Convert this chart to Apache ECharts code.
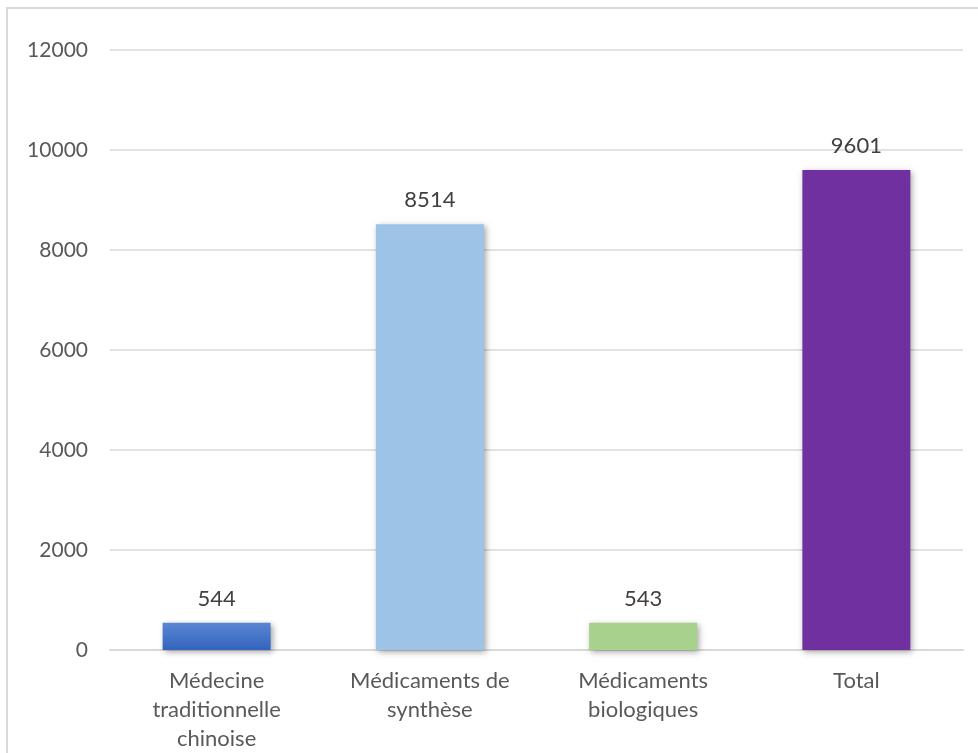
<!DOCTYPE html>
<html>
<head>
<meta charset="utf-8">
<style>html,body{margin:0;padding:0;background:#fff;}#c{width:978px;height:753px;}</style>
<script src="https://cdn.jsdelivr.net/npm/echarts@6/dist/echarts.min.js"></script>
</head>
<body>
<div id="c"></div>
<script>
const categories = ["Médecine\ntraditionnelle\nchinoise", "Médicaments de\nsynthèse", "Médicaments\nbiologiques", "Total"];
const values = [544, 8514, 543, 9601];
const barColors = [
  {type:'linear',x:0,y:0,x2:0,y2:1,colorStops:[{offset:0,color:'#5B86D2'},{offset:1,color:'#3263BE'}]},
  '#9DC3E6', '#A9D18E', '#7030A0'
];
const yTicks = {min:0, max:12000, interval:2000};

const chart = echarts.init(document.getElementById('c'));
const FONT = 'Lato';
chart.setOption({
  animation:false,
  backgroundColor:'#fff',
  graphic:[{type:'rect',shape:{x:7,y:8,width:1100,height:1000},style:{fill:'none',stroke:'#d9d9d9',lineWidth:2},silent:true,z:-1}],
  grid:{left:110,right:15,top:50,bottom:103,containLabel:false},
  xAxis:{type:'category',data:categories,
    axisLine:{lineStyle:{color:'#d9d9d9',width:2}},
    axisTick:{show:false},
    axisLabel:{color:'#595959',fontFamily:FONT,fontSize:22,lineHeight:29,margin:16,interval:0}
  },
  yAxis:{type:'value',min:yTicks.min,max:yTicks.max,interval:yTicks.interval,
    axisLine:{show:false},axisTick:{show:false},
    axisLabel:{color:'#595959',fontFamily:FONT,fontSize:21,margin:22,formatter:v=>String(v)},
    splitLine:{lineStyle:{color:'#d9d9d9',width:1.5}}
  },
  series:[{type:'bar',barWidth:108,
    data:values.map((v,i)=>({value:v,itemStyle:{color:barColors[i]}})),
    itemStyle:{shadowBlur:6,shadowColor:'rgba(0,0,0,0.35)',shadowOffsetX:2,shadowOffsetY:2},
    label:{show:true,position:'top',distance:13,color:'#404040',fontFamily:FONT,fontSize:22}
  }]
});
</script>
</body>
</html>
